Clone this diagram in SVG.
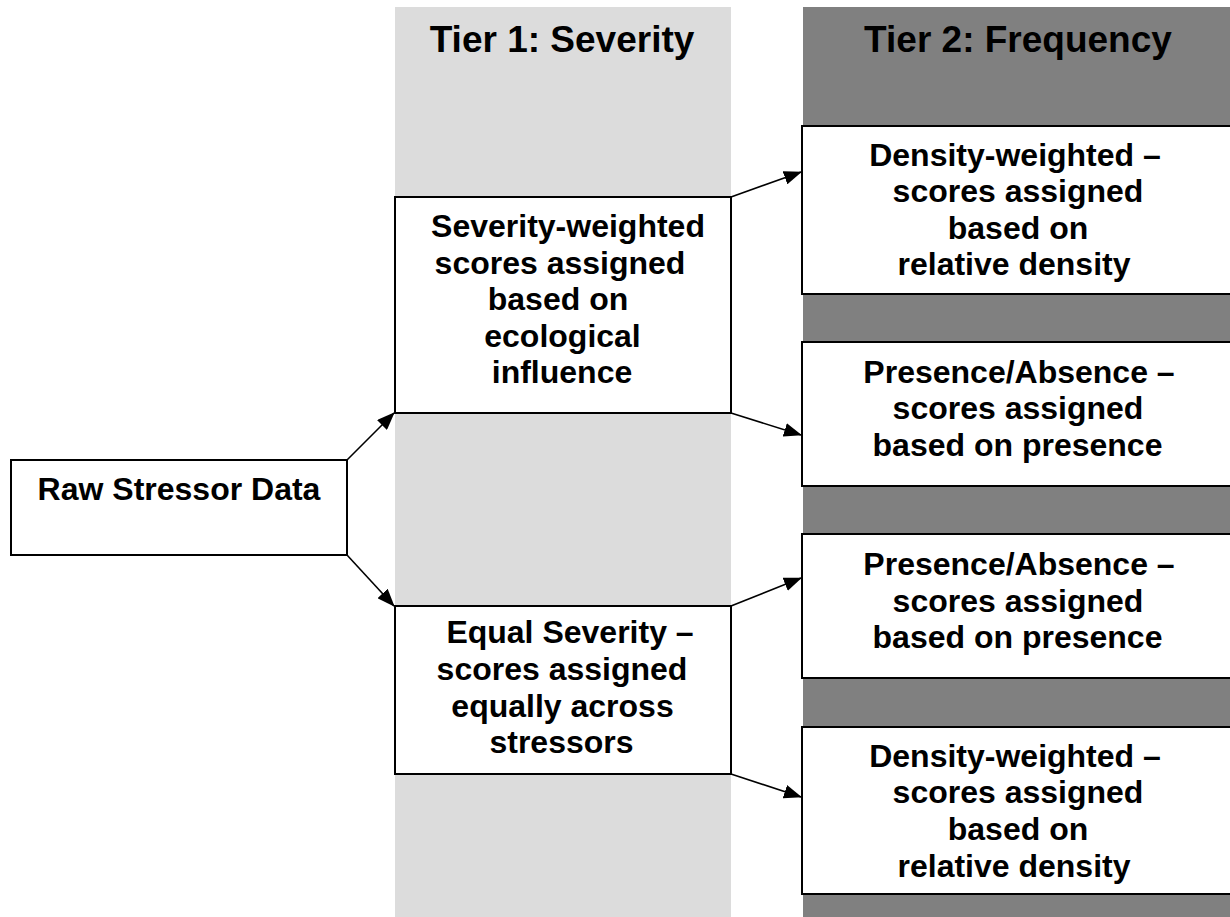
<svg xmlns="http://www.w3.org/2000/svg" width="1230" height="917" viewBox="0 0 1230 917">
<style>
.box{fill:#fff;stroke:#000;stroke-width:2}
.t{font-family:"Liberation Sans",Arial,sans-serif;font-weight:bold;font-size:32px;fill:#000;text-anchor:middle}
.h{font-family:"Liberation Sans",Arial,sans-serif;font-weight:bold;font-size:37px;fill:#000;text-anchor:middle}
.c{stroke:#000;stroke-width:1.6;fill:none;marker-end:url(#ah)}
</style>
<defs>
<marker id="ah" markerUnits="userSpaceOnUse" markerWidth="18" markerHeight="14" refX="17" refY="7" orient="auto">
<path d="M0,0 L18,7 L0,14 z" fill="#000"/>
</marker>
</defs>
<rect width="1230" height="917" fill="#fff"/>
<g id="tier1">
<rect x="395" y="7" width="336" height="910" fill="#dcdcdc"/>
<text class="h" x="562" y="52">Tier 1: Severity</text>
</g>
<g id="tier2">
<rect x="803" y="7" width="430" height="910" fill="#808080"/>
<text class="h" x="1018" y="52">Tier 2: Frequency</text>
</g>
<g id="raw">
<rect class="box" x="11" y="460" width="336" height="95"/>
<text class="t" x="179" y="500">Raw Stressor Data</text>
</g>
<g id="sevw">
<rect class="box" x="395" y="197" width="336" height="216"/>
<text class="t" y="237"><tspan x="568">Severity-weighted</tspan><tspan x="560" y="273.5">scores assigned</tspan><tspan x="558" y="310">based on</tspan><tspan x="562.5" y="346.5">ecological</tspan><tspan x="562" y="383">influence</tspan></text>
</g>
<g id="eqsev">
<rect class="box" x="395" y="606" width="336" height="168"/>
<text class="t" y="643"><tspan x="570">Equal Severity –</tspan><tspan x="562" y="680">scores assigned</tspan><tspan x="562.5" y="717">equally across</tspan><tspan x="561.5" y="753">stressors</tspan></text>
</g>
<g id="dens1">
<rect class="box" x="802" y="126" width="432" height="168"/>
<text class="t" y="166"><tspan x="1015">Density-weighted –</tspan><tspan x="1018" y="202">scores assigned</tspan><tspan x="1018" y="239">based on</tspan><tspan x="1014" y="275">relative density</tspan></text>
</g>
<g id="pres1">
<rect class="box" x="802" y="342" width="432" height="144"/>
<text class="t" y="383"><tspan x="1019">Presence/Absence –</tspan><tspan x="1018" y="419">scores assigned</tspan><tspan x="1017.5" y="456">based on presence</tspan></text>
</g>
<g id="pres2">
<rect class="box" x="802" y="534" width="432" height="144"/>
<text class="t" y="575"><tspan x="1019">Presence/Absence –</tspan><tspan x="1018" y="612">scores assigned</tspan><tspan x="1017.5" y="648">based on presence</tspan></text>
</g>
<g id="dens2">
<rect class="box" x="802" y="727" width="432" height="167"/>
<text class="t" y="767"><tspan x="1015">Density-weighted –</tspan><tspan x="1018" y="803">scores assigned</tspan><tspan x="1018" y="840">based on</tspan><tspan x="1014" y="877">relative density</tspan></text>
</g>
<g id="connectors">
<line class="c" x1="347" y1="460" x2="394" y2="413"/>
<line class="c" x1="347" y1="555" x2="394" y2="606"/>
<line class="c" x1="731" y1="197" x2="801" y2="172"/>
<line class="c" x1="731" y1="413" x2="801" y2="435"/>
<line class="c" x1="731" y1="606" x2="801" y2="578"/>
<line class="c" x1="731" y1="774" x2="801" y2="797"/>
</g>
</svg>
